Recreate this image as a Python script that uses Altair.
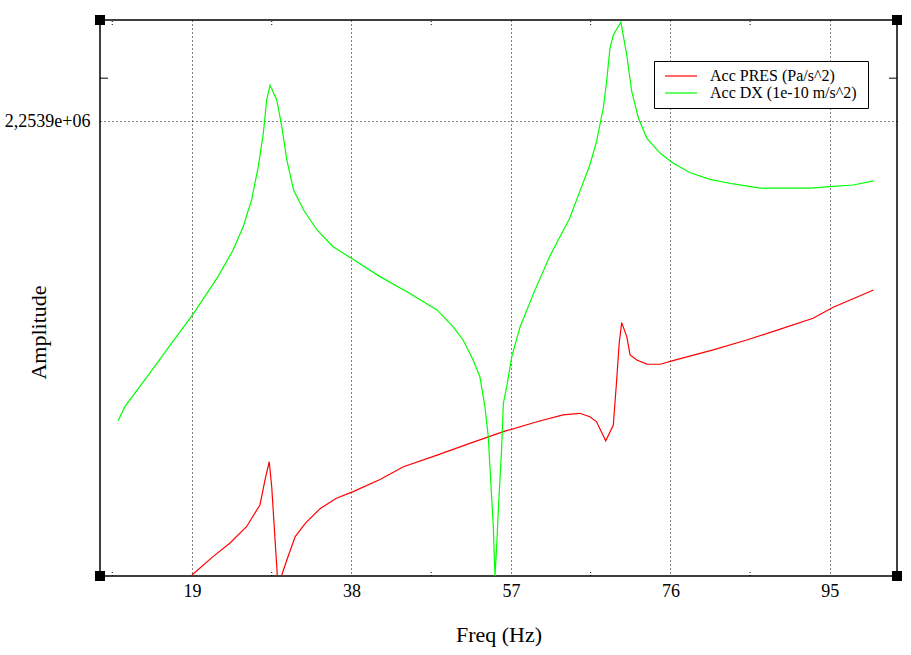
import altair as alt
import pandas as pd

# ---- data (amplitude in units of 1e6) ----
freq_dx = [10.2, 11.0, 14.0, 16.4, 19.2, 22.1, 23.9, 25.1, 26.1, 26.9, 27.5, 27.9, 28.3,
           29.1, 29.7, 30.3, 31.1, 32.3, 33.9, 35.8, 37.8, 41.4, 44.6, 48.2, 50.1, 51.3,
           52.5, 53.3, 53.9, 54.3, 54.7, 54.9, 55.1, 55.3, 55.5, 55.9, 56.1, 56.5, 57.1,
           58.1, 59.7, 61.6, 64.0, 65.2, 66.4, 67.2, 68.0, 68.4, 68.8, 69.2, 70.1, 70.8,
           71.4, 72.2, 73.2, 74.8, 76.3, 78.3, 80.7, 83.5, 86.7, 92.6, 95.0, 97.8, 100.2]
amp_dx = [0.769, 0.839, 1.006, 1.144, 1.301, 1.483, 1.615, 1.730, 1.863, 2.028, 2.193, 2.358,
          2.432, 2.358, 2.226, 2.061, 1.912, 1.813, 1.714, 1.631, 1.579, 1.483, 1.408, 1.318,
          1.235, 1.169, 1.070, 0.987, 0.839, 0.690, 0.393, 0.244, 0.0, 0.145, 0.327, 0.641,
          0.856, 0.938, 1.087, 1.235, 1.400, 1.582, 1.772, 1.904, 2.036, 2.152, 2.317, 2.449,
          2.614, 2.680, 2.743, 2.581, 2.399, 2.267, 2.168, 2.094, 2.046, 1.999, 1.965, 1.942,
          1.921, 1.921, 1.929, 1.937, 1.957]

freq_pres = [19.0, 21.5, 23.5, 25.5, 27.1, 27.7, 28.2, 28.5, 28.9, 29.2, 29.5, 30.3, 31.3,
             32.5, 34.3, 36.2, 38.2, 41.4, 44.2, 48.2, 52.1, 56.1, 60.1, 63.2, 65.2, 66.4,
             67.2, 68.3, 69.2, 69.6, 69.9, 70.2, 70.8, 71.2, 72.0, 73.2, 74.8, 76.3, 81.1,
             85.1, 89.0, 93.0, 95.4, 100.2]
amp_pres = [0.005, 0.096, 0.162, 0.244, 0.352, 0.476, 0.566, 0.442, 0.178, -0.02, -0.02, 0.079,
            0.195, 0.261, 0.335, 0.385, 0.418, 0.478, 0.541, 0.599, 0.657, 0.715, 0.764, 0.798,
            0.806, 0.789, 0.764, 0.670, 0.748, 0.971, 1.153, 1.255, 1.186, 1.095, 1.070, 1.050,
            1.049, 1.067, 1.120, 1.169, 1.222, 1.277, 1.331, 1.417]

series_names = ["Acc PRES  (Pa/s^2)", "Acc DX  (1e-10 m/s^2)"]
series_colors = ["#ff0000", "#00ff00"]

x_ticks = [19, 38, 57, 76, 95]
x_minor = [9.5, 28.5, 47.5, 66.5, 85.5]
y_ticks = [2.2539]
y_minor = [2.466]
x_domain = [8.04, 103.0]
y_domain = [0.0, 2.75424]

# ---- tables ----
lines_df = pd.concat([
    pd.DataFrame({"freq": freq_pres, "amp": amp_pres, "series": series_names[0], "order": 0}),
    pd.DataFrame({"freq": freq_dx, "amp": amp_dx, "series": series_names[1], "order": 1}),
], ignore_index=True)

tick_len_y = 0.025
minor_x_df = pd.concat([
    pd.DataFrame({"freq": x_minor, "amp": [y_domain[0]] * 5, "amp2": [y_domain[0] + tick_len_y] * 5}),
    pd.DataFrame({"freq": x_minor, "amp": [y_domain[1] - tick_len_y] * 5, "amp2": [y_domain[1]] * 5}),
], ignore_index=True)

tick_len_x = 0.95
minor_y_df = pd.DataFrame({
    "freq": [x_domain[0], x_domain[1] - tick_len_x],
    "freq2": [x_domain[0] + tick_len_x, x_domain[1]],
    "amp": y_minor * 2,
})

corner_df = pd.DataFrame({
    "freq": [x_domain[0], x_domain[1], x_domain[0], x_domain[1]],
    "amp": [y_domain[0], y_domain[0], y_domain[1], y_domain[1]],
})

SERIF = "Liberation Serif"

x_scale = alt.Scale(domain=x_domain, nice=False, zero=False)
y_scale = alt.Scale(domain=y_domain, nice=False, zero=False)

x_enc = alt.X("freq:Q", scale=x_scale, title="Freq (Hz)",
              axis=alt.Axis(values=x_ticks, grid=True, gridDash=[1, 3], gridColor="black",
                            gridOpacity=1, gridWidth=1, ticks=False, domain=False,
                            labelFont=SERIF, labelFontSize=18, labelColor="black",
                            labelPadding=6, titleFont=SERIF, titleFontSize=22,
                            titleFontWeight="normal", titleColor="black", titlePadding=24))
y_enc = alt.Y("amp:Q", scale=y_scale, title="Amplitude",
              axis=alt.Axis(values=y_ticks, labelExpr="'2,2539e+06'", grid=True, gridDash=[1, 3],
                            gridColor="black", gridOpacity=1, gridWidth=1, ticks=False,
                            domain=False, labelFont=SERIF, labelFontSize=18, labelColor="black",
                            labelPadding=10, titleFont=SERIF, titleFontSize=22,
                            titleFontWeight="normal", titleColor="black", titleAngle=-90,
                            titleAlign="center", titleBaseline="middle", titleX=-62, titleY=312))

lines = alt.Chart(lines_df).mark_line(strokeWidth=1.2, clip=True).encode(
    x=x_enc,
    y=y_enc,
    color=alt.Color("series:N", scale=alt.Scale(domain=series_names, range=series_colors),
                    legend=alt.Legend(title=None, orient="none", legendX=554, legendY=41,
                                      strokeColor="black", fillColor="white", padding=7,
                                      symbolType="M-1,0H7", symbolSize=64,
                                      symbolStrokeWidth=1.2, labelFont=SERIF, labelFontSize=16,
                                      labelColor="black", labelOffset=33, rowPadding=1,
                                      labelLimit=300, cornerRadius=0)),
    order="order:Q",
)

minor_x = alt.Chart(minor_x_df).mark_rule(color="black", strokeWidth=1, strokeDash=[1, 2]).encode(
    x="freq:Q", y="amp:Q", y2="amp2:Q")

minor_y = alt.Chart(minor_y_df).mark_rule(color="black", strokeWidth=1).encode(
    x="freq:Q", x2="freq2:Q", y="amp:Q")

corners = alt.Chart(corner_df).mark_square(size=100, color="black", opacity=1, clip=False).encode(
    x="freq:Q", y="amp:Q")

chart = alt.layer(minor_x, minor_y, lines, corners).properties(
    width=797, height=556,
    autosize=alt.AutoSizeParams(type="none"),
    padding={"left": 100, "top": 20, "right": 14, "bottom": 79},
    background="white",
).configure_view(stroke="black", strokeWidth=1.5)

chart.save("out.html", embed_options={"renderer": "svg", "actions": False})
